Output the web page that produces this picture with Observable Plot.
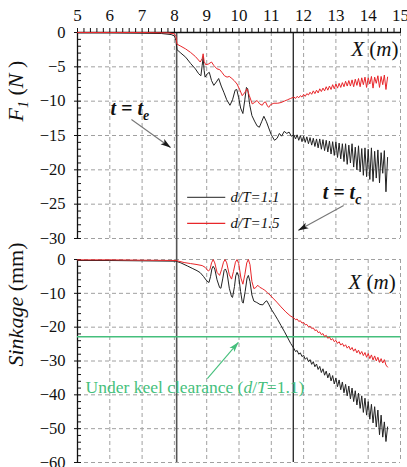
<!DOCTYPE html>
<html><head><meta charset="utf-8">
<script src="https://cdn.jsdelivr.net/npm/d3@7"></script>
<script src="https://cdn.jsdelivr.net/npm/@observablehq/plot@0.6"></script>
<style>
body{margin:0;background:#fff}
#wrap{position:relative;width:407px;height:467px;overflow:hidden;background:#fff}
#wrap svg{position:absolute;left:0}
#wrap svg text{font-family:'Liberation Serif','Times New Roman',serif !important}
</style></head><body><div id="wrap"></div>
<script>
// ---- data ----
const xTicks = [5,6,7,8,9,10,11,12,13,14,15];
const forceTicks = [0,-5,-10,-15,-20,-25,-30];
const sinkTicks = [0,-10,-20,-30,-40,-50,-60];
const eventX = [8.07, 11.68];          // t = t_e , t = t_c
const ukcLevel = [-22.8];              // under keel clearance (d/T=1.1)
const seriesNames = ["d/T=1.1", "d/T=1.5"];

const force11 = [
[5,-0.05],[6,-0.05],[7,-0.1],[7.6,-0.15],[7.9,-0.3],[8.0,-0.5],[8.05,-1.2],[8.08,-2.5],[8.2,-3.0],[8.35,-3.6],[8.5,-4.5],[8.65,-5.3],[8.75,-6.0],[8.82,-6.3],[8.86,-4.8],[8.89,-3.6],[8.92,-5.5],[8.95,-6.5],[9.02,-6.0],[9.08,-5.8],[9.15,-7.0],[9.22,-7.7],[9.3,-7.2],[9.37,-6.7],[9.45,-7.8],[9.53,-8.7],[9.62,-9.8],[9.72,-10.6],[9.8,-9.8],[9.88,-8.4],[9.93,-8.3],[9.99,-9.5],[10.05,-11.0],[10.12,-11.8],[10.18,-9.8],[10.23,-8.0],[10.27,-8.2],[10.33,-10.5],[10.4,-12.1],[10.48,-12.9],[10.56,-13.6],[10.63,-13.8],[10.7,-13.0],[10.77,-12.2],[10.85,-13.0],[10.92,-13.9],[11.0,-14.9],[11.1,-15.7],[11.18,-15.4],[11.25,-14.7],[11.32,-15.1],[11.4,-14.4],[11.48,-14.7],[11.55,-14.5],[11.62,-15.1],
[11.70,-14.9],[11.75,-15.5],[11.80,-14.9],[11.85,-15.7],[11.90,-15.0],[11.95,-15.9],[12.00,-15.1],[12.05,-16.0],[12.10,-15.2],[12.15,-16.2],[12.20,-15.3],[12.25,-16.4],[12.30,-15.4],[12.35,-16.6],[12.40,-15.5],[12.45,-16.8],[12.50,-15.5],[12.55,-17.0],[12.60,-15.6],[12.65,-17.2],[12.70,-15.7],[12.75,-17.4],[12.80,-15.8],[12.85,-17.7],[12.90,-15.9],[12.95,-17.9],[13.00,-15.9],[13.05,-18.2],[13.10,-16.1],[13.15,-18.4],[13.20,-16.2],[13.25,-18.8],[13.30,-16.2],[13.35,-19.2],[13.40,-16.4],[13.45,-19.0],[13.50,-16.2],[13.55,-19.6],[13.60,-16.7],[13.65,-20.0],[13.70,-16.5],[13.75,-20.3],[13.80,-16.9],[13.85,-20.8],[13.90,-16.8],[13.95,-21.0],[14.00,-17.0],[14.05,-21.4],[14.10,-16.8],[14.15,-21.7],[14.20,-17.3],[14.25,-21.2],[14.30,-17.1],[14.35,-21.9],[14.40,-17.5],[14.45,-20.5],[14.50,-17.2],[14.55,-23.2],[14.60,-18.2]
];
const force15 = [
[5,0],[6,0],[7,0],[7.8,-0.05],[8.0,-0.2],[8.05,-0.6],[8.08,-1.7],[8.2,-2.0],[8.35,-2.4],[8.5,-2.9],[8.65,-3.5],[8.8,-4.3],[8.86,-3.8],[8.89,-3.1],[8.92,-4.2],[8.97,-4.7],[9.05,-4.6],[9.15,-4.3],[9.22,-4.8],[9.32,-5.3],[9.4,-5.4],[9.47,-5.8],[9.55,-6.3],[9.63,-6.5],[9.7,-6.4],[9.78,-6.7],[9.85,-7.0],[9.94,-7.5],[10.02,-8.3],[10.1,-9.2],[10.17,-8.8],[10.25,-8.2],[10.32,-9.2],[10.41,-10.4],[10.48,-10.2],[10.56,-9.9],[10.64,-10.4],[10.72,-10.6],[10.77,-10.2],[10.82,-10.1],[10.88,-10.7],[10.92,-10.9],[10.98,-10.5],[11.08,-10.3],[11.2,-10.3],[11.3,-10.2],[11.4,-10.0],[11.5,-9.8],[11.6,-9.6],
[11.70,-9.4],[11.75,-9.6],[11.80,-9.3],[11.85,-9.5],[11.90,-9.2],[11.95,-9.4],[12.00,-9.0],[12.05,-9.3],[12.10,-8.9],[12.15,-9.1],[12.20,-8.7],[12.25,-9.0],[12.30,-8.5],[12.35,-8.9],[12.40,-8.4],[12.45,-8.8],[12.50,-8.2],[12.55,-8.6],[12.60,-8.1],[12.65,-8.5],[12.70,-7.9],[12.75,-8.4],[12.80,-7.8],[12.85,-8.3],[12.90,-7.6],[12.95,-8.2],[13.00,-7.5],[13.05,-8.1],[13.10,-7.4],[13.15,-8.0],[13.20,-7.3],[13.25,-7.9],[13.30,-7.1],[13.35,-7.8],[13.40,-7.0],[13.45,-7.8],[13.50,-6.9],[13.55,-7.9],[13.60,-6.8],[13.65,-7.7],[13.70,-6.7],[13.75,-7.9],[13.80,-6.6],[13.85,-7.6],[13.90,-6.5],[13.95,-8.0],[14.00,-6.6],[14.05,-7.5],[14.10,-6.4],[14.15,-8.1],[14.20,-6.5],[14.25,-7.4],[14.30,-6.3],[14.35,-8.0],[14.40,-6.4],[14.45,-7.6],[14.50,-6.2],[14.55,-8.3],[14.60,-6.5]
];
const sink11 = [
[5,-0.3],[6,-0.3],[7,-0.4],[8.05,-0.5],[8.2,-1.0],[8.4,-1.9],[8.55,-2.6],[8.7,-3.3],[8.8,-3.9],[8.9,-5.0],[9.0,-6.3],[9.07,-6.8],[9.12,-5.0],[9.16,-2.8],[9.2,-2.0],[9.25,-2.8],[9.32,-6.0],[9.4,-8.3],[9.44,-8.5],[9.5,-5.5],[9.54,-3.2],[9.58,-2.8],[9.63,-4.0],[9.7,-8.5],[9.77,-11.0],[9.8,-11.2],[9.86,-8.0],[9.9,-4.8],[9.94,-3.8],[9.99,-5.0],[10.05,-9.5],[10.1,-12.5],[10.13,-12.9],[10.19,-9.5],[10.25,-5.5],[10.29,-4.7],[10.34,-6.5],[10.4,-10.5],[10.46,-12.3],[10.55,-12.7],[10.65,-13.3],[10.74,-13.4],[10.8,-12.6],[10.86,-12.2],[10.92,-13.2],[11.0,-14.7],[11.1,-16.2],[11.2,-17.8],[11.3,-19.5],[11.4,-21.2],[11.5,-23.0],[11.6,-24.8],
[11.70,-26.3],[11.75,-27.2],[11.80,-26.9],[11.85,-28.0],[11.90,-27.6],[11.95,-28.7],[12.00,-28.3],[12.05,-29.5],[12.10,-29.0],[12.15,-30.2],[12.20,-29.6],[12.25,-31.0],[12.30,-30.2],[12.35,-31.7],[12.40,-30.9],[12.45,-32.5],[12.50,-31.6],[12.55,-33.4],[12.60,-32.3],[12.65,-34.2],[12.70,-33.0],[12.75,-35.0],[12.80,-33.6],[12.85,-35.9],[12.90,-34.3],[12.95,-36.8],[13.00,-35.0],[13.05,-37.6],[13.10,-35.6],[13.15,-38.5],[13.20,-36.2],[13.25,-39.4],[13.30,-36.9],[13.35,-40.3],[13.40,-37.4],[13.45,-41.2],[13.50,-38.0],[13.55,-42.0],[13.60,-38.8],[13.65,-43.0],[13.70,-39.5],[13.75,-44.0],[13.80,-40.3],[13.85,-45.2],[13.90,-41.0],[13.95,-46.0],[14.00,-42.0],[14.05,-47.2],[14.10,-42.8],[14.15,-48.3],[14.20,-43.5],[14.25,-49.5],[14.30,-44.5],[14.35,-51.8],[14.40,-46.0],[14.45,-52.5],[14.50,-48.0],[14.55,-53.8],[14.60,-49.5]
];
const sink15 = [
[5,-0.1],[6,-0.1],[7,-0.2],[8.05,-0.3],[8.3,-0.9],[8.5,-1.2],[8.7,-1.5],[8.86,-1.8],[8.95,-2.3],[9.05,-3.4],[9.1,-3.0],[9.15,-1.0],[9.2,0],[9.25,-1.0],[9.32,-3.8],[9.4,-4.7],[9.46,-3.0],[9.52,-0.8],[9.57,0],[9.62,-1.0],[9.7,-4.5],[9.77,-5.8],[9.83,-3.5],[9.89,-0.8],[9.94,0],[9.99,-1.2],[10.06,-5.5],[10.12,-7.3],[10.18,-4.5],[10.24,-1.0],[10.29,0],[10.34,-1.5],[10.4,-6.5],[10.46,-8.6],[10.52,-8.3],[10.58,-7.6],[10.64,-8.2],[10.72,-8.6],[10.8,-9.1],[10.88,-9.8],[10.96,-10.5],[11.05,-11.4],[11.17,-12.6],[11.3,-14.0],[11.45,-15.5],[11.58,-16.6],
[11.70,-17.3],[11.75,-17.8],[11.80,-17.6],[11.85,-18.3],[11.90,-18.1],[11.95,-18.8],[12.00,-18.6],[12.05,-19.3],[12.10,-19.2],[12.15,-19.9],[12.20,-19.7],[12.25,-20.4],[12.30,-20.2],[12.35,-21.0],[12.40,-20.8],[12.45,-21.6],[12.50,-21.4],[12.55,-22.2],[12.60,-21.9],[12.65,-22.8],[12.70,-22.4],[12.75,-23.3],[12.80,-22.9],[12.85,-23.8],[12.90,-23.4],[12.95,-24.3],[13.00,-23.9],[13.05,-24.8],[13.10,-24.3],[13.15,-25.3],[13.20,-24.8],[13.25,-25.7],[13.30,-25.2],[13.35,-26.2],[13.40,-25.6],[13.45,-26.7],[13.50,-26.0],[13.55,-27.1],[13.60,-26.4],[13.65,-27.6],[13.70,-26.8],[13.75,-28.0],[13.80,-27.2],[13.85,-28.4],[13.90,-27.5],[13.95,-28.9],[14.00,-27.8],[14.05,-29.3],[14.10,-28.2],[14.15,-29.7],[14.20,-28.5],[14.25,-30.0],[14.30,-28.9],[14.35,-30.4],[14.40,-29.3],[14.45,-30.6],[14.50,-29.6],[14.55,-31.2],[14.60,-31.8]
];

// ---- styling ----
const FONT = "'Liberation Serif', 'Times New Roman', serif";
const BLACK = "#222", RED = "#e8262a", GREEN = "#45bf7c";
const grid = {stroke: "#a0a0a0", strokeOpacity: 1, strokeDasharray: "4,3", strokeWidth: 1};
const minorX = d3.range(50, 151, 2).map(d => d / 10);
const minorForce = d3.range(0, -31, -1);
const minorSink = d3.range(0, -61, -2);
const px = d => d[0], py = d => d[1];
const svgStyle = {background: "transparent", overflow: "visible", fontFamily: FONT, fontSize: "16px", color: "#111"};

const topPlot = Plot.plot({
  width: 407, height: 250, marginLeft: 77, marginRight: 7, marginTop: 32, marginBottom: 12,
  style: svgStyle,
  x: {domain: [5, 15]}, y: {domain: [-30, 0]},
  marks: [
    Plot.gridX(xTicks.slice(1), grid),
    Plot.gridY(forceTicks.slice(1), grid),
    Plot.ruleX([eventX[0]], {stroke: "#555", strokeWidth: 1.6}),
    Plot.ruleX([eventX[1]], {stroke: "#111", strokeWidth: 1.2}),
    Plot.ruleX([5], {stroke: "#111", strokeWidth: 1.3}),
    Plot.ruleY([0], {stroke: "#111", strokeWidth: 1.3}),
    Plot.axisX({anchor: "top", ticks: xTicks, tickSize: 0, tickPadding: 12, label: null, fontSize: 17, fontFamily: FONT}),
    Plot.axisX({anchor: "top", ticks: minorX, tickSize: 5, tickFormat: () => "", label: null}),
    Plot.axisY({ticks: forceTicks, tickSize: 3, tickPadding: 9, label: null, fontSize: 16.5, fontFamily: FONT}),
    Plot.axisY({ticks: minorForce, tickSize: 4, dx: 4, tickFormat: () => "", label: null}),
    Plot.line(force11, {x: px, y: py, stroke: BLACK, strokeWidth: 1}),
    Plot.line(force15, {x: px, y: py, stroke: RED, strokeWidth: 1}),
    // legend
    Plot.ruleY([-24.0], {x1: 8.41, x2: 9.59, stroke: BLACK, strokeWidth: 1}),
    Plot.ruleY([-27.8], {x1: 8.41, x2: 9.59, stroke: RED, strokeWidth: 1.2}),
    Plot.text([seriesNames[0]], {x: 9.74, y: -24.0, text: d => d, textAnchor: "start", fontStyle: "italic", fontSize: 15}),
    Plot.text([seriesNames[1]], {x: 9.74, y: -27.8, text: d => d, textAnchor: "start", fontStyle: "italic", fontSize: 15}),
    // annotations
    Plot.text(["t = te"], {x: 6.02, y: -11.06, text: d => d, textAnchor: "start", fontWeight: "bold", fontStyle: "italic", fontSize: 20}),
    Plot.text(["t = tc"], {x: 12.59, y: -23.3, text: d => d, textAnchor: "start", fontWeight: "bold", fontStyle: "italic", fontSize: 20}),
    Plot.link([{a: 6.67, b: -12.66, c: 7.88, d: -16.74}, {a: 13.24, b: -25.2, c: 11.84, d: -28.8}],
      {x1: "a", y1: "b", x2: "c", y2: "d", stroke: "#777", strokeWidth: 1.1, markerEnd: "arrow"}),
    Plot.text(["X (m)"], {x: 15, y: -2.47, dx: -2, text: d => d, textAnchor: "end", fontSize: 21}),
    Plot.text(["F1 (N)"], {frameAnchor: "left", text: d => d, rotate: -90, dx: -62, dy: -14, fontSize: 22})
  ]
});

const bottomPlot = Plot.plot({
  width: 407, height: 229, marginLeft: 77, marginRight: 7, marginTop: 21, marginBottom: 5,
  style: svgStyle,
  x: {domain: [5, 15], axis: null}, y: {domain: [-60, 0]},
  marks: [
    Plot.gridX(xTicks.slice(1), grid),
    Plot.gridY(sinkTicks, grid),
    Plot.ruleX([eventX[0]], {stroke: "#555", strokeWidth: 1.6, insetTop: -21}),
    Plot.ruleX([eventX[1]], {stroke: "#111", strokeWidth: 1.2, insetTop: -21}),
    Plot.ruleX([5], {stroke: "#111", strokeWidth: 1.3}),
    Plot.axisY({ticks: sinkTicks, tickSize: 3, tickPadding: 9, label: null, fontSize: 16.5, fontFamily: FONT}),
    Plot.axisY({ticks: minorSink, tickSize: 4, dx: 4, tickFormat: () => "", label: null}),
    Plot.ruleY(ukcLevel, {stroke: GREEN, strokeWidth: 1.5}),
    Plot.line(sink11, {x: px, y: py, stroke: BLACK, strokeWidth: 1}),
    Plot.line(sink15, {x: px, y: py, stroke: RED, strokeWidth: 1}),
    Plot.text(["X (m)"], {x: 14.85, y: -6.8, text: d => d, textAnchor: "end", fontSize: 21}),
    Plot.text(["Under keel clearance (d/T=1.1)"], {x: 5.25, y: -37.8, text: d => d, textAnchor: "start", fill: GREEN, fontSize: 17.5}),
    Plot.link([{a: 9.02, b: -35.2, c: 9.98, d: -24.5}], {x1: "a", y1: "b", x2: "c", y2: "d", stroke: GREEN, strokeWidth: 1.1, markerEnd: "arrow"}),
    Plot.text(["Sinkage (mm)"], {frameAnchor: "left", text: d => d, rotate: -90, dx: -62, dy: 5.5, fontSize: 22})
  ]
});

const wrap = document.getElementById("wrap");
topPlot.style.top = "0px";
bottomPlot.style.top = "238px";
wrap.appendChild(topPlot);
wrap.appendChild(bottomPlot);

// filled arrowheads (dark for the time markers, green for the clearance note)
for (const m of wrap.querySelectorAll("marker")) {
  const c = m.getAttribute("stroke");
  const fill = (c && c.toLowerCase() === GREEN) ? GREEN : "#1a1a1a";
  m.setAttribute("viewBox", "-10 -5 11 10");
  m.setAttribute("markerWidth", "11");
  m.setAttribute("markerHeight", "10");
  m.setAttribute("markerUnits", "userSpaceOnUse");
  m.setAttribute("fill", fill);
  m.setAttribute("stroke", "none");
  const p = m.querySelector("path");
  if (p) p.setAttribute("d", "M-10,-3.2L0.5,0L-10,3.2L-7.5,0Z");
}

// rich text (italics / subscripts) on the real text elements
const rich = {
  "t = te": 't = t<tspan dy="5" font-size="14">e</tspan>',
  "t = tc": 't = t<tspan dy="5" font-size="14">c</tspan>',
  "F1 (N)": '<tspan font-style="italic">F</tspan><tspan dy="5" font-size="14" font-style="italic">1</tspan><tspan dy="-5"> (</tspan><tspan font-style="italic">N</tspan> )',
  "Sinkage (mm)": '<tspan font-style="italic">Sinkage</tspan> (mm)',
  "X (m)": '<tspan font-style="italic">X</tspan> (<tspan font-style="italic">m</tspan>)',
  "Under keel clearance (d/T=1.1)": 'Under keel clearance (<tspan font-style="italic">d</tspan>/<tspan font-style="italic">T</tspan>=1.1)'
};
for (const t of wrap.querySelectorAll("text")) {
  const k = t.textContent;
  if (rich[k]) t.innerHTML = rich[k];
}
</script></body></html>
